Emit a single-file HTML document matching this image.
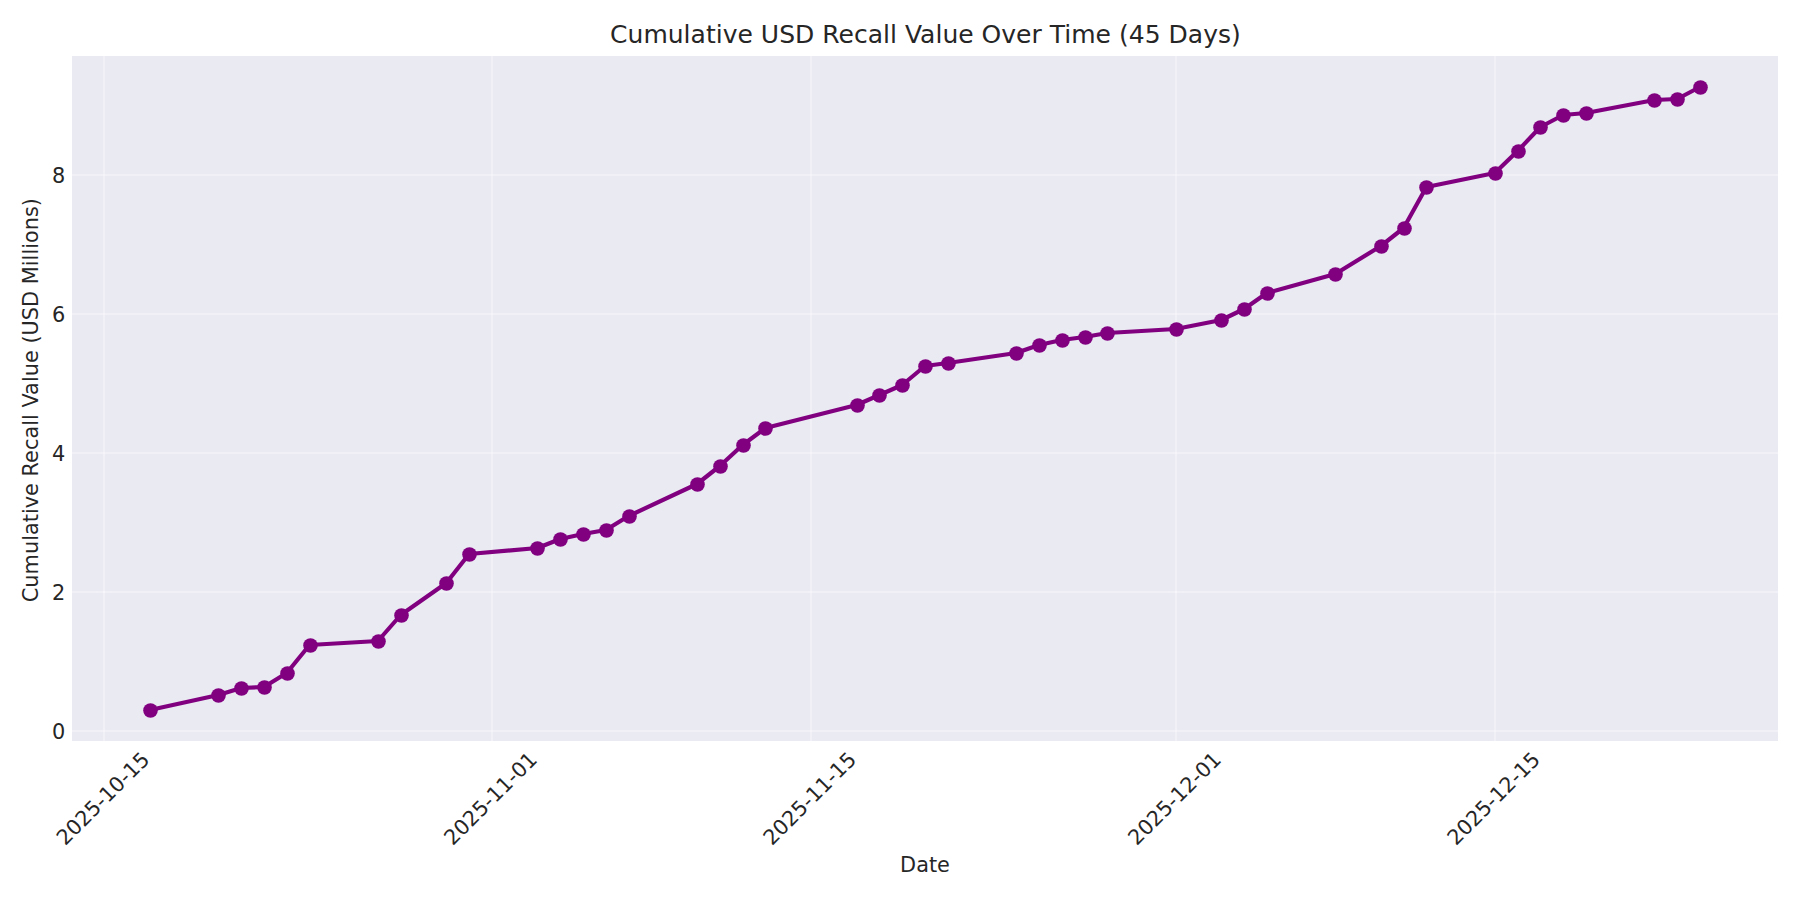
<!DOCTYPE html>
<html><head><meta charset="utf-8"><title>Cumulative USD Recall Value Over Time (45 Days)</title>
<style>
html,body{margin:0;padding:0;background:#fff;}
body{width:1800px;height:900px;overflow:hidden;}
svg{display:block;}
text{font-family:"DejaVu Sans","Liberation Sans",sans-serif;fill:#262626;}
</style></head><body>
<svg width="1800" height="900" viewBox="0 0 1800 900">
<rect x="0" y="0" width="1800" height="900" fill="#ffffff"/>
<rect x="72" y="56" width="1706" height="685" fill="#eaeaf2"/>
<g stroke="#ffffff" stroke-opacity="0.3" stroke-width="2"><line x1="104" y1="56" x2="104" y2="741"/><line x1="492" y1="56" x2="492" y2="741"/><line x1="811" y1="56" x2="811" y2="741"/><line x1="1176" y1="56" x2="1176" y2="741"/><line x1="1495" y1="56" x2="1495" y2="741"/><line x1="72" y1="731" x2="1778" y2="731"/><line x1="72" y1="592" x2="1778" y2="592"/><line x1="72" y1="453" x2="1778" y2="453"/><line x1="72" y1="314" x2="1778" y2="314"/><line x1="72" y1="175" x2="1778" y2="175"/></g>
<polyline points="149.98,710.0 218.36,695.0 241.16,688.0 263.95,687.0 286.74,673.0 309.54,645.0 377.92,641.0 400.71,615.0 446.3,583.0 469.1,554.0 537.48,548.0 560.27,539.0 583.07,534.0 605.86,530.0 628.65,516.0 697.04,484.0 719.83,466.0 742.62,445.0 765.42,428.0 856.59,405.0 879.39,395.0 902.18,385.0 924.98,366.0 947.77,363.0 1016.15,353.0 1038.95,345.0 1061.74,340.0 1084.53,337.0 1107.33,333.0 1175.71,329.0 1221.3,320.0 1244.09,309.0 1266.89,293.0 1335.27,274.0 1380.86,246.0 1403.65,228.0 1426.44,187.0 1494.83,173.0 1517.62,151.0 1540.41,127.0 1563.21,115.0 1586.0,113.0 1654.38,100.0 1677.18,99.0 1699.97,87.0" fill="none" stroke="#800080" stroke-width="4.17" stroke-linejoin="round" stroke-linecap="butt"/>
<g fill="#800080"><circle cx="150.5" cy="710.5" r="7.3"/><circle cx="218.5" cy="695.5" r="7.3"/><circle cx="241.5" cy="688.5" r="7.3"/><circle cx="264.5" cy="687.5" r="7.3"/><circle cx="287.5" cy="673.5" r="7.3"/><circle cx="310.5" cy="645.5" r="7.3"/><circle cx="378.5" cy="641.5" r="7.3"/><circle cx="401.5" cy="615.5" r="7.3"/><circle cx="446.5" cy="583.5" r="7.3"/><circle cx="469.5" cy="554.5" r="7.3"/><circle cx="537.5" cy="548.5" r="7.3"/><circle cx="560.5" cy="539.5" r="7.3"/><circle cx="583.5" cy="534.5" r="7.3"/><circle cx="606.5" cy="530.5" r="7.3"/><circle cx="629.5" cy="516.5" r="7.3"/><circle cx="697.5" cy="484.5" r="7.3"/><circle cx="720.5" cy="466.5" r="7.3"/><circle cx="743.5" cy="445.5" r="7.3"/><circle cx="765.5" cy="428.5" r="7.3"/><circle cx="857.5" cy="405.5" r="7.3"/><circle cx="879.5" cy="395.5" r="7.3"/><circle cx="902.5" cy="385.5" r="7.3"/><circle cx="925.5" cy="366.5" r="7.3"/><circle cx="948.5" cy="363.5" r="7.3"/><circle cx="1016.5" cy="353.5" r="7.3"/><circle cx="1039.5" cy="345.5" r="7.3"/><circle cx="1062.5" cy="340.5" r="7.3"/><circle cx="1085.5" cy="337.5" r="7.3"/><circle cx="1107.5" cy="333.5" r="7.3"/><circle cx="1176.5" cy="329.5" r="7.3"/><circle cx="1221.5" cy="320.5" r="7.3"/><circle cx="1244.5" cy="309.5" r="7.3"/><circle cx="1267.5" cy="293.5" r="7.3"/><circle cx="1335.5" cy="274.5" r="7.3"/><circle cx="1381.5" cy="246.5" r="7.3"/><circle cx="1404.5" cy="228.5" r="7.3"/><circle cx="1426.5" cy="187.5" r="7.3"/><circle cx="1495.5" cy="173.5" r="7.3"/><circle cx="1518.5" cy="151.5" r="7.3"/><circle cx="1540.5" cy="127.5" r="7.3"/><circle cx="1563.5" cy="115.5" r="7.3"/><circle cx="1586.5" cy="113.5" r="7.3"/><circle cx="1654.5" cy="100.5" r="7.3"/><circle cx="1677.5" cy="99.5" r="7.3"/><circle cx="1700.5" cy="87.5" r="7.3"/></g>
<g font-size="20.83px"><text x="65.2" y="738.6" text-anchor="end">0</text><text x="65.2" y="599.6" text-anchor="end">2</text><text x="65.2" y="460.6" text-anchor="end">4</text><text x="65.2" y="321.6" text-anchor="end">6</text><text x="65.2" y="182.6" text-anchor="end">8</text><text transform="translate(102.6,798.2) rotate(-45)" text-anchor="middle" y="7.6">2025-10-15</text><text transform="translate(490.2,798.2) rotate(-45)" text-anchor="middle" y="7.6">2025-11-01</text><text transform="translate(809.4,798.2) rotate(-45)" text-anchor="middle" y="7.6">2025-11-15</text><text transform="translate(1174.2,798.2) rotate(-45)" text-anchor="middle" y="7.6">2025-12-01</text><text transform="translate(1493.3,798.2) rotate(-45)" text-anchor="middle" y="7.6">2025-12-15</text>
<text x="925" y="871.5" text-anchor="middle">Date</text>
<text transform="translate(38,400.1) rotate(-90)" text-anchor="middle" letter-spacing="0.022">Cumulative Recall Value (USD Millions)</text>
</g>
<text x="925.4" y="43" text-anchor="middle" font-size="25px" letter-spacing="0.015">Cumulative USD Recall Value Over Time (45 Days)</text>
</svg>
</body></html>
